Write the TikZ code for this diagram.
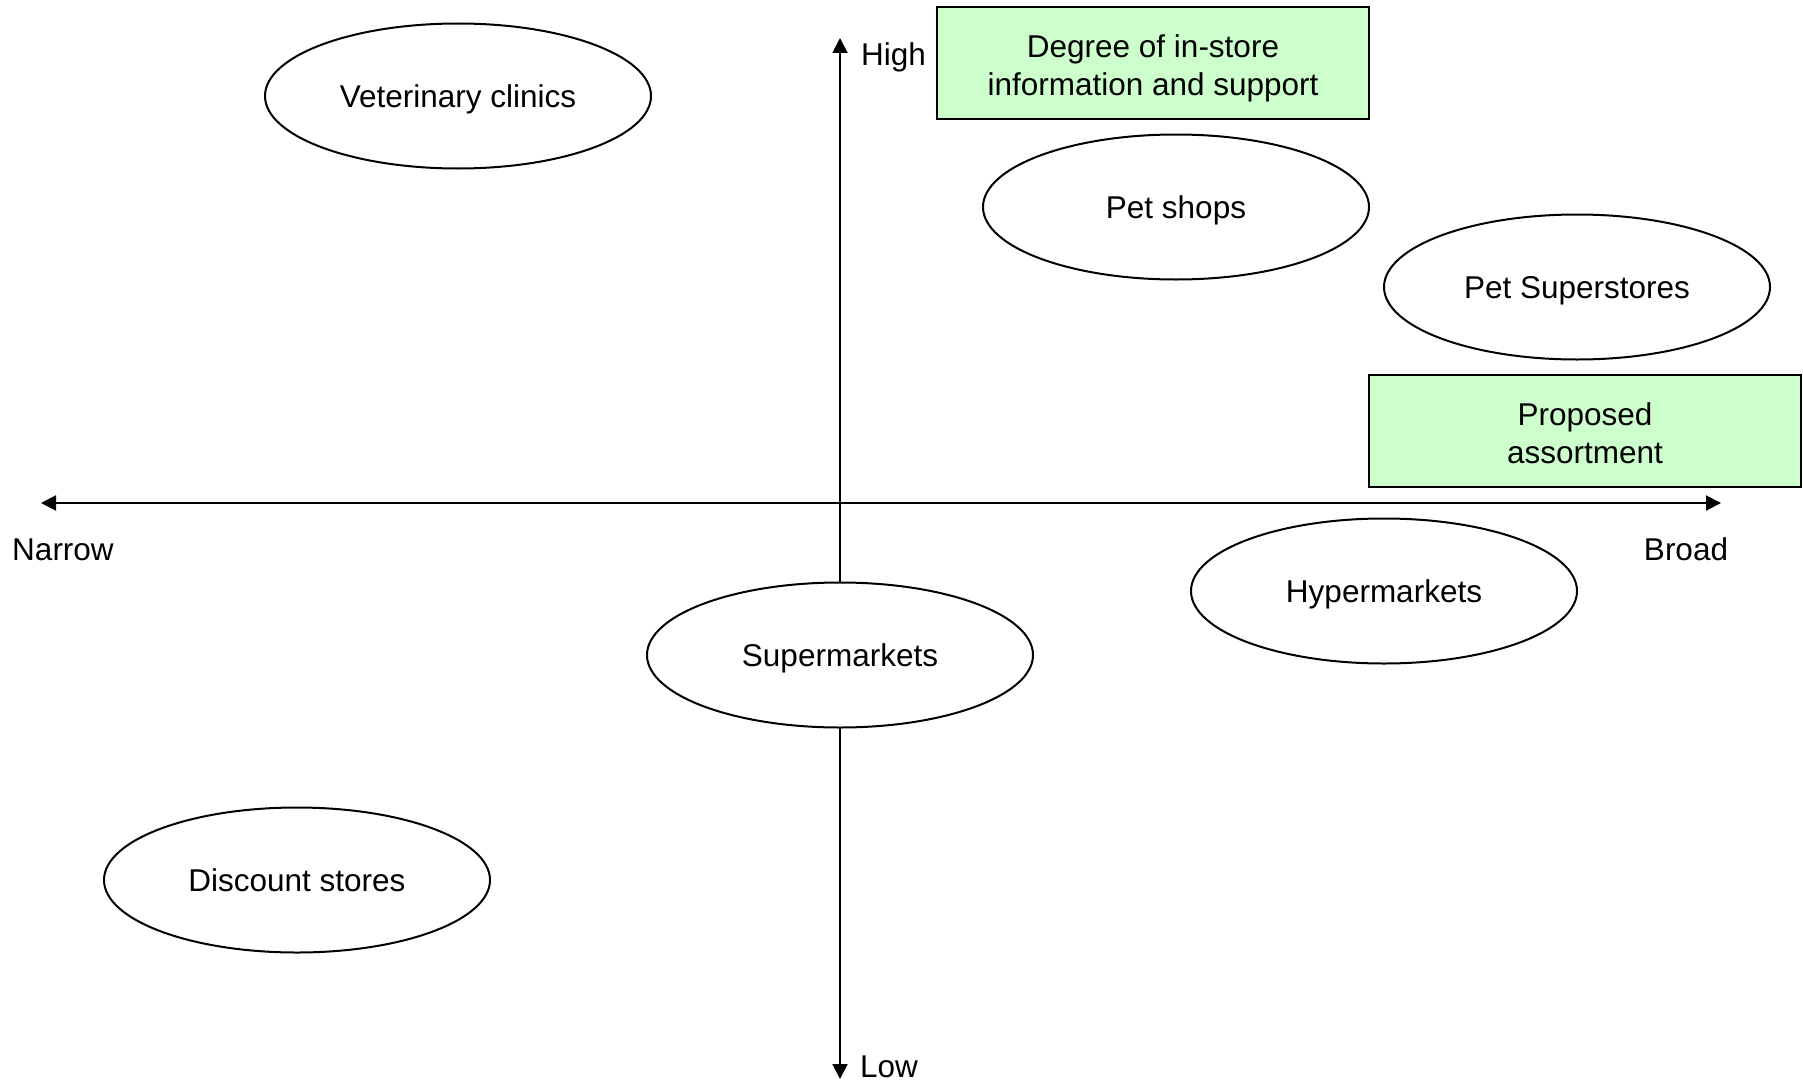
\documentclass[tikz,border=0pt]{standalone}
\usepackage{fontspec}
\setmainfont{Liberation Sans}
\usetikzlibrary{shapes.geometric,arrows.meta}
\definecolor{boxgreen}{HTML}{CCFFCC}
\newcommand{\topstrut}{\rule{0pt}{33pt}}
\newcommand{\botstrut}{\rule[-7pt]{0pt}{7pt}}
\begin{document}
\begin{tikzpicture}[x=1pt,y=-1pt,
  every node/.style={font=\fontsize{31.5}{38}\selectfont},
  outlet/.style={ellipse,draw,line width=2pt,fill=white,minimum width=386pt,minimum height=145pt,inner sep=0pt,text height=23pt,text depth=0pt},
  infobox/.style={rectangle,draw,line width=2pt,fill=boxgreen,align=center,inner sep=0pt},
  axisline/.style={line width=2pt,{Triangle[length=15pt,width=15pt]}-{Triangle[length=15pt,width=15pt]}},
  axislabel/.style={inner sep=0pt,text height=23pt,text depth=0pt}]
\useasboundingbox (0,0) rectangle (1803,1081);
% axes
\coordinate (top) at (840,38);
\coordinate (bottom) at (840,1079);
\coordinate (left) at (41,503);
\coordinate (right) at (1721,503);
\draw[axisline] (top) -- (bottom);
\draw[axisline] (left) -- (right);
% axis labels
\node[axislabel,anchor=west] (high) at (861,54) {High};
\node[axislabel,anchor=west] (low) at (860,1066) {Low};
\node[axislabel] (narrow) at (63,549) {Narrow};
\node[axislabel] (broad) at (1686,549) {Broad};
% boxes
\node[infobox,minimum width=432pt,minimum height=112pt] (degree) at (1153,63) {\topstrut Degree of in-store\\information and support\botstrut};
\node[infobox,minimum width=432pt,minimum height=112pt] (proposed) at (1585,431) {\topstrut Proposed\\assortment\botstrut};
% outlets
\node[outlet] (vet) at (458,96) {Veterinary clinics};
\node[outlet] (petshops) at (1176,207) {Pet shops};
\node[outlet] (superstores) at (1577,287) {Pet Superstores};
\node[outlet] (hyper) at (1384,591) {Hypermarkets};
\node[outlet] (super) at (840,655) {Supermarkets};
\node[outlet] (discount) at (297,880) {Discount stores};
\end{tikzpicture}
\end{document}
